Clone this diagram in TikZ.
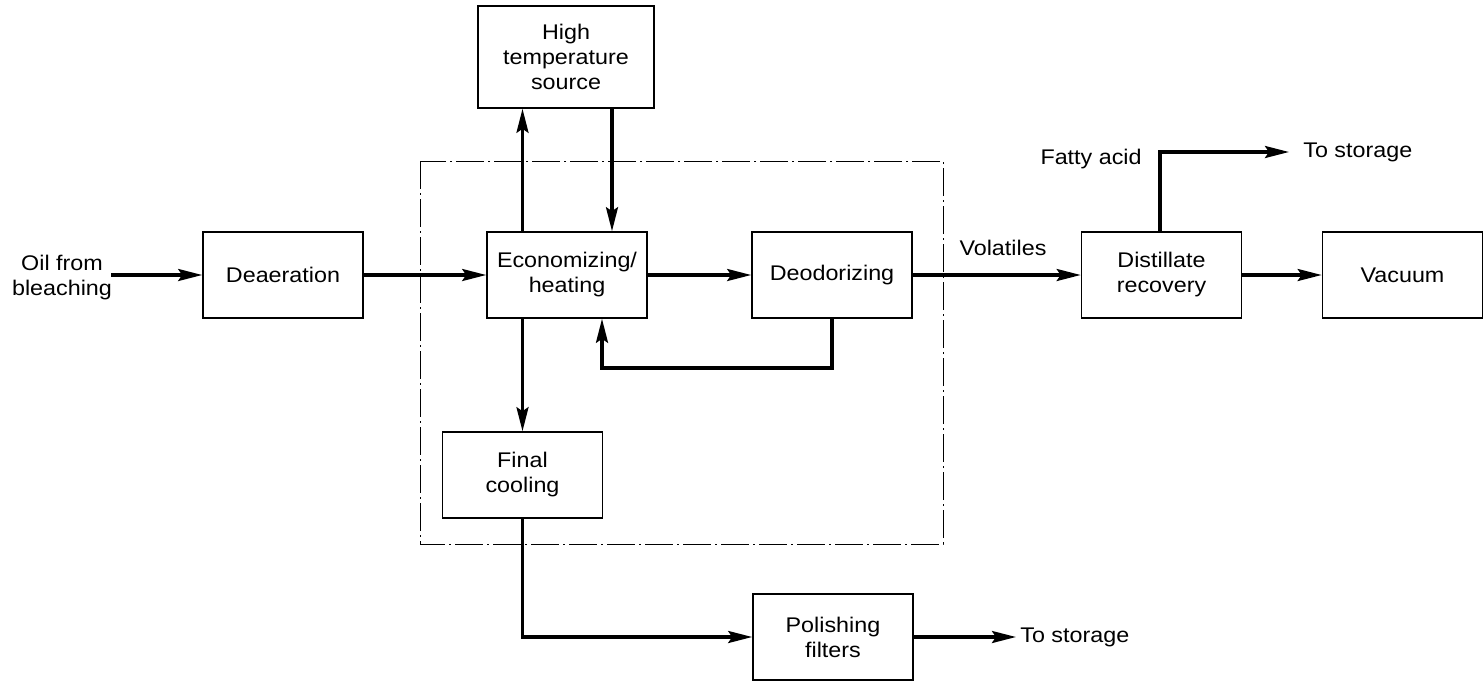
\documentclass[tikz,border=0pt]{standalone}
\usepackage{fontspec}
\setmainfont[FakeStretch=1.1]{Liberation Sans}
\usetikzlibrary{arrows.meta}
\begin{document}
\begin{tikzpicture}[x=0.5pt,y=-0.5pt,
  box/.style={draw,line width=0.8pt,rectangle,inner sep=0pt,minimum width=80pt,minimum height=43pt,align=center,font=\fontsize{10.6}{12.5}\selectfont},
  lbl/.style={inner sep=0pt,align=center,font=\fontsize{10.6}{12.5}\selectfont},
  arr/.style={line width=1.6pt,-{Stealth[length=12pt,width=6pt,inset=2pt]}},
  dashbox/.style={draw,line width=0.5pt,dash pattern=on 14pt off 2pt on 1pt off 2pt}]
\useasboundingbox (0,0) rectangle (1484,681);
% dashed enclosure
\draw[dashbox] (420,161) rectangle (943,544);
% boxes
\node[box] (deaer) at (283,275) {Deaeration};
\node[box] (econ) at (567,275) {Economizing/\\heating};
\node[box] (deod) at (832,275) {Deodorizing};
\node[box] (dist) at (1161.5,275) {Distillate\\recovery};
\node[box] (vac) at (1402.5,275) {Vacuum};
\node[box,minimum width=88pt,minimum height=51pt] (hts) at (566,57) {High\\temperature\\source};
\node[box] (cool) at (522.5,475) {Final\\cooling};
\node[box] (pol) at (833,637) {Polishing\\filters};
% labels
\node[lbl] (oil) at (62,278) {Oil from\\bleaching};
\coordinate (oilend) at (111,275);
\node[lbl] (vol) at (1003,248) {Volatiles};
\node[lbl,anchor=east] (fa) at (1142,159) {Fatty acid};
\node[lbl,anchor=west,inner sep=7pt] (ts1) at (1289,152) {To storage};
\node[lbl,anchor=west,inner sep=2pt] (ts2) at (1016,637) {To storage};
\coordinate (x612) at (612,0);
\coordinate (fbc) at (602,368);
% connectors
\draw[arr] (oilend) -- (deaer.west);
\draw[arr] (deaer.east) -- (econ.west);
\draw[arr] (econ.east) -- (deod.west);
\draw[arr] (deod.east) -- (dist.west);
\draw[arr] (dist.east) -- (vac.west);
\draw[arr] (dist.north -| 1160,0) |- (ts1.west);
\draw[arr] (econ.north -| cool.north) -- (hts.south -| cool.north);
\draw[arr] (hts.south -| x612) -- (econ.north -| x612);
\draw[arr] (econ.south -| cool.north) -- (cool.north);
\draw[arr] (deod.south) |- (fbc) -- (econ.south -| fbc);
\draw[arr] (cool.south) |- (pol.west);
\draw[arr] (pol.east) -- (ts2.west);
\end{tikzpicture}
\end{document}
